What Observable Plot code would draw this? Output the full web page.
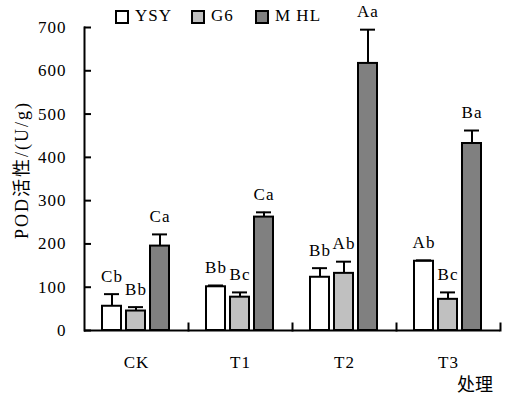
<!DOCTYPE html>
<html>
<head>
<meta charset="utf-8">
<script src="https://cdn.jsdelivr.net/npm/d3@7"></script>
<script src="https://cdn.jsdelivr.net/npm/@observablehq/plot@0.6"></script>
<style>
  body { margin: 0; background: #fff; }
  #wrap { position: relative; width: 528px; height: 398px; font-family: "Liberation Serif", serif; color: #000; }
  #chart { position: absolute; left: 0; top: 0; }
  .lg-sw { position: absolute; top: 10px; width: 14px; height: 14px; box-sizing: border-box; border: 2px solid #000; }
  .lg-tx { position: absolute; top: 6px; font-size: 17px; line-height: 20px; letter-spacing: 1px; white-space: nowrap; }
  #ylab { position: absolute; left: 20px; top: 170px; transform: translate(-50%, -50%) rotate(-90deg); font-size: 18px; letter-spacing: 2px; white-space: nowrap; font-family: "Liberation Serif", "Noto Sans CJK SC", serif; }
  #xlab { position: absolute; left: 457px; top: 372px; font-size: 18px; line-height: 22px; white-space: nowrap; font-family: "Noto Sans CJK SC", sans-serif; }
</style>
</head>
<body>
<div id="wrap">
  <div id="chart"></div>
  <div id="ylab">POD活性/(U/g)</div>
  <div id="xlab">处理</div>
</div>
<script>
// ---- data ----
const categories = ["CK", "T1", "T2", "T3"];
const series = ["YSY", "G6", "MHL"];
const legendLabels = ["YSY", "G6", "M HL"];
const seriesColors = ["#ffffff", "#c0c0c0", "#808080"];

const ysyValues = [56, 101, 123, 160];
const ysyErrors = [28, 3, 21, 2];
const ysyLetters = ["Cb", "Bb", "Bb", "Ab"];

const g6Values = [45, 77, 132, 72];
const g6Errors = [9, 11, 27, 16];
const g6Letters = ["Bb", "Bc", "Ab", "Bc"];

const mhlValues = [195, 262, 617, 432];
const mhlErrors = [27, 11, 78, 30];
const mhlLetters = ["Ca", "Ca", "Aa", "Ba"];

const yTicks = [0, 100, 200, 300, 400, 500, 600, 700];

// ---- table ----
const valueSets = [ysyValues, g6Values, mhlValues];
const errorSets = [ysyErrors, g6Errors, mhlErrors];
const letterSets = [ysyLetters, g6Letters, mhlLetters];
const rows = [];
categories.forEach((cat, i) => {
  series.forEach((s, j) => {
    rows.push({cat, series: s, value: valueSets[j][i], top: valueSets[j][i] + errorSets[j][i], sig: letterSets[j][i]});
  });
});

const marginTop = 27, marginBottom = 68, H = 398;
const innerH = H - marginTop - marginBottom;
const serifStack = "'Liberation Serif', serif";

const chart = Plot.plot({
  width: 528,
  height: H,
  marginLeft: 82,
  marginRight: 27,
  marginTop,
  marginBottom,
  style: {fontFamily: serifStack, fontSize: "17px", background: "transparent", color: "#000", letterSpacing: "1px"},
  fx: {domain: categories, padding: 0, label: null},
  x: {domain: series, paddingInner: 0.2, paddingOuter: 0.75, axis: null},
  y: {domain: [0, 700], label: null},
  color: {domain: series, range: seriesColors},
  marks: [
    Plot.barY(rows, {fx: "cat", x: "series", y: "value", fill: "series", stroke: "#000", strokeWidth: 2}),
    Plot.ruleX(rows, {fx: "cat", x: "series", y1: "value", y2: "top", stroke: "#000", strokeWidth: 2}),
    Plot.tickY(rows, {fx: "cat", x: "series", y: "top", stroke: "#000", strokeWidth: 2, insetLeft: 2, insetRight: 2}),
    Plot.text(rows, {fx: "cat", x: "series", y: "top", text: "sig", dy: -18, fill: "#000", fontFamily: serifStack}),
    Plot.ruleY([0], {stroke: "#000", strokeWidth: 2}),
    Plot.frame({anchor: "left", facetAnchor: "left", stroke: "#000", strokeWidth: 2}),
    Plot.frame({anchor: "right", insetTop: innerH - 7, stroke: "#000", strokeWidth: 2}),
    Plot.axisY(yTicks, {tickSize: -7, text: null, strokeWidth: 2, label: null}),
    Plot.axisY(yTicks, {tickSize: 0, tickPadding: 18, label: null, fontFamily: serifStack}),
    Plot.axisFx({anchor: "bottom", tickSize: 0, tickPadding: 25, label: null, fontFamily: serifStack})
  ]
});
document.getElementById("chart").appendChild(chart);

// ---- legend ----
const wrap = document.getElementById("wrap");
const swatchX = [115, 191, 255];
legendLabels.forEach((lab, j) => {
  const sw = document.createElement("div");
  sw.className = "lg-sw";
  sw.style.left = swatchX[j] + "px";
  sw.style.background = seriesColors[j];
  wrap.appendChild(sw);
  const tx = document.createElement("div");
  tx.className = "lg-tx";
  tx.style.left = (swatchX[j] + 20) + "px";
  tx.textContent = lab;
  wrap.appendChild(tx);
});
</script>
</body>
</html>
